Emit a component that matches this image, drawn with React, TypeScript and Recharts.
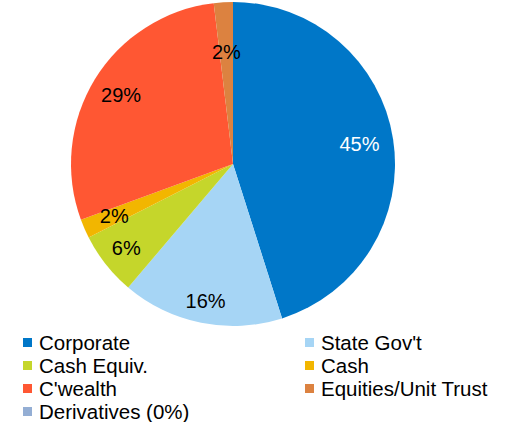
import React from "react";
import { PieChart, Pie, Cell, Legend } from "recharts";

const categories = [
  "Corporate",
  "State Gov't",
  "Cash Equiv.",
  "Cash",
  "C'wealth",
  "Equities/Unit Trust",
  "Derivatives (0%)",
];
const values = [45.1, 16.1, 6.3, 1.9, 28.7, 1.9, 0];
const colors = [
  "#0077C8",
  "#A6D5F5",
  "#C5D62B",
  "#F2B600",
  "#FF5733",
  "#DC8240",
  "#94AED4",
];
const labelColors = ["#fff", "#000", "#000", "#000", "#000", "#000", "#000"];
// how far out each data label sits, as a share of the radius (Excel "best fit")
const labelRadius = [0.79, 0.86, 0.84, 0.8, 0.81, 0.69, 0.8];

const data = categories.map((name, i) => ({ name, value: values[i] }));

const RAD = Math.PI / 180;

const renderLabel = (props: any) => {
  const { cx, cy, midAngle, outerRadius, percent, index } = props;
  if (!percent) return null;
  const r = outerRadius * labelRadius[index];
  const x = cx + r * Math.cos(-midAngle * RAD);
  const y = cy + r * Math.sin(-midAngle * RAD);
  return (
    <text
      x={x}
      y={y}
      fill={labelColors[index]}
      textAnchor="middle"
      dominantBaseline="central"
      fontSize={20}
      fontFamily="Liberation Sans, Arial, sans-serif"
    >
      {`${Math.round(percent * 100)}%`}
    </text>
  );
};

const renderLegend = () => (
  <div
    style={{
      display: "grid",
      gridTemplateColumns: "282px 200px",
      rowGap: 0,
      fontFamily: "Liberation Sans, Arial, sans-serif",
      fontSize: 20.5,
      color: "#000",
    }}
  >
    {categories.map((name, i) => (
      <div
        key={name}
        style={{ display: "flex", alignItems: "center", height: 23, whiteSpace: "nowrap" }}
      >
        <span
          style={{
            width: 9,
            height: 9,
            background: colors[i],
            display: "inline-block",
            marginRight: 7,
            flexShrink: 0,
          }}
        />
        {name}
      </div>
    ))}
  </div>
);

export default function App() {
  return (
    <div style={{ position: "absolute", left: 0, top: 0, background: "#fff" }}>
      <PieChart
        width={510}
        height={422}
        margin={{ top: 0, right: 0, bottom: 0, left: 0 }}
      >
        <Pie
          data={data}
          dataKey="value"
          nameKey="name"
          cx={233}
          cy={164}
          outerRadius={162}
          startAngle={90}
          endAngle={-270}
          stroke="none"
          label={renderLabel}
          labelLine={false}
          isAnimationActive={false}
        >
          {data.map((d, i) => (
            <Cell key={d.name} fill={colors[i]} />
          ))}
        </Pie>
        <Legend
          content={renderLegend}
          wrapperStyle={{ left: 23, top: 331, width: 490 }}
        />
      </PieChart>
    </div>
  );
}
